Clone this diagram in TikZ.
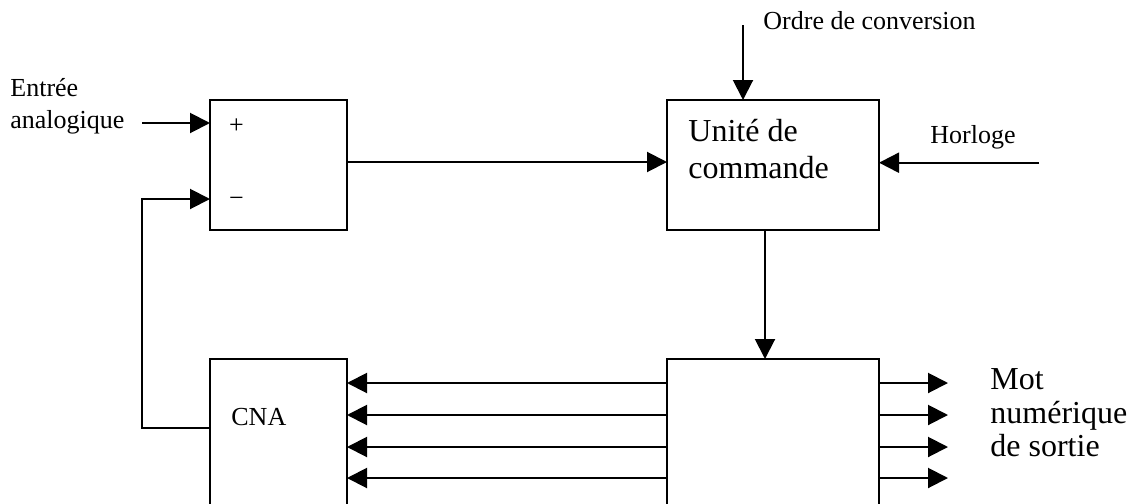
\documentclass[tikz,border=0pt]{standalone}
\usepackage{fontspec}
\setmainfont{Liberation Serif}
\usetikzlibrary{arrows.meta, positioning}

\begin{document}
\begin{tikzpicture}[x=0.5pt, y=-0.5pt]
        \tikzstyle{block} = [rectangle, draw, line width=1pt, inner sep=0pt, outer sep=0pt]
        \tikzstyle{arrow} = [-{Triangle[length=10pt, width=10pt]}, line width=1pt]
        \tikzstyle{small} = [font=\fontsize{13}{15.8}\selectfont, inner sep=0pt, align=left]
        \tikzstyle{big} = [font=\fontsize{16}{18.3}\selectfont, inner sep=0pt, align=left]
        \tikzstyle{bigtight} = [font=\fontsize{16}{16.7}\selectfont, inner sep=0pt, align=left]

        \useasboundingbox (0,0) rectangle (1134,503);
        \clip (0,0) rectangle (1134,503);

        % Blocks
        \node (comp) [block, minimum width=68.5pt, minimum height=65pt] at (278.5,165) {};
        \node (ctrl) [block, minimum width=106pt, minimum height=65pt] at (773,165) {};
        \node (cna) [block, minimum width=68.5pt, minimum height=85pt] at (278.5,444) {};
        \node (reg) [block, minimum width=106pt, minimum height=85pt] at (773,444) {};

        % Texts in the blocks (base = last line)
        \node (plus) [small, anchor=base] at (236.5,133.5) {+};
        \node (minus) [small, anchor=base] at (236.5,206.5) {−};
        \node (unite) [big, anchor=base west] at (688,178.3) {Unité de\\commande};
        \node (cnatext) [small, anchor=base west] at (231,425) {CNA};

        % Labels
        \node (entree) [small, anchor=base west] at (10,128.3) {Entrée\\analogique};
        \node (ordre) [small, anchor=base west] at (763,29) {Ordre de conversion};
        \node (horloge) [small, anchor=base west] at (930,143.3) {Horloge};
        \node (mot) [bigtight, anchor=base west] at (990,456.5) {Mot\\numérique\\de sortie};

        % Free ends
        \coordinate (ain) at (142,123);
        \coordinate (fb) at (142,428);
        \coordinate (ord) at (743,25);
        \coordinate (clk) at (1039,162.7);

        % Arrows
        \draw [arrow] (ain) -- (comp.west |- ain);
        \draw [arrow] (cna.west |- fb) -- (fb) |- (comp.west |- 0,199);
        \draw [arrow] (comp.east |- 0,162) -- (ctrl.west |- 0,162);
        \draw [arrow] (ord) -- (ord |- ctrl.north);
        \draw [arrow] (clk) -- (clk -| ctrl.east);
        \draw [arrow] ([xshift=-4pt]ctrl.south) -- ([xshift=-4pt]ctrl.south |- reg.north);

        % Bus to the CNA
        \draw [arrow] (reg.west |- 0,383) -- (cna.east |- 0,383);
        \draw [arrow] (reg.west |- 0,415) -- (cna.east |- 0,415);
        \draw [arrow] (reg.west |- 0,447) -- (cna.east |- 0,447);
        \draw [arrow] (reg.west |- 0,478) -- (cna.east |- 0,478);

        % Output word
        \draw [arrow] (reg.east |- 0,383) -- ([xshift=34.5pt]reg.east |- 0,383);
        \draw [arrow] (reg.east |- 0,415) -- ([xshift=34.5pt]reg.east |- 0,415);
        \draw [arrow] (reg.east |- 0,447) -- ([xshift=34.5pt]reg.east |- 0,447);
        \draw [arrow] (reg.east |- 0,478) -- ([xshift=34.5pt]reg.east |- 0,478);
    \end{tikzpicture}
\end{document}
